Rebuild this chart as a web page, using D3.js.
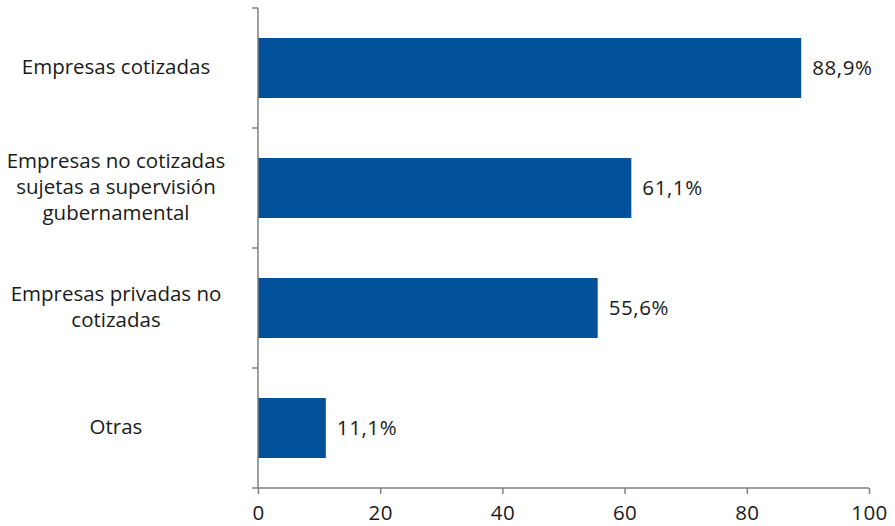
<!DOCTYPE html>
<html>
<head>
<meta charset="utf-8">
<script src="https://cdn.jsdelivr.net/npm/d3@7"></script>
<style>
  html, body { margin: 0; padding: 0; background: #fff; }
  svg { display: block; font-family: "Open Sans", "Noto Sans", sans-serif; }
</style>
</head>
<body>
<svg id="chart" width="895" height="526"></svg>
<script>
// Category labels, one line per array entry
const categories = [
  ["Empresas cotizadas"],
  ["Empresas no cotizadas", "sujetas a supervisión", "gubernamental"],
  ["Empresas privadas no", "cotizadas"],
  ["Otras"]
];
const values = [88.9, 61.1, 55.6, 11.1];
const valueLabels = ["88,9%", "61,1%", "55,6%", "11,1%"];
const xTicks = [0, 20, 40, 60, 80, 100];

const svg = d3.select("#chart");
const margin = { left: 258, right: 26, top: 8, bottom: 38 };
const width = 895, height = 526;

const x = d3.scaleLinear().domain([0, 100]).range([margin.left, width - margin.right]);
const y = d3.scaleBand().domain(d3.range(categories.length))
  .range([margin.top, height - margin.bottom]).paddingInner(0.5).paddingOuter(0.25);
const band = d3.scaleBand().domain(d3.range(categories.length))
  .range([margin.top, height - margin.bottom]);

const axisColor = "#7f7f7f";
const textColor = "#1a1a1a";

// Bars
svg.append("g").selectAll("rect").data(values).join("rect")
  .attr("x", x(0))
  .attr("y", (d, i) => y(i))
  .attr("width", d => x(d) - x(0))
  .attr("height", y.bandwidth())
  .attr("fill", "#02519b");

// Value labels
svg.append("g").selectAll("text").data(values).join("text")
  .attr("x", d => x(d) + 11)
  .attr("y", (d, i) => y(i) + y.bandwidth() / 2)
  .attr("dy", "0.35em")
  .attr("font-size", 20.5)
  .attr("letter-spacing", 0.6)
  .attr("fill", textColor)
  .text((d, i) => valueLabels[i]);

// Y axis: line with ticks at category boundaries
const yAxisG = svg.append("g");
yAxisG.append("line")
  .attr("x1", x(0)).attr("x2", x(0))
  .attr("y1", band.range()[0]).attr("y2", band.range()[1])
  .attr("stroke", axisColor).attr("stroke-width", 1.5);
const bounds = d3.range(categories.length).map(i => band(i));
yAxisG.selectAll("line.tick").data(bounds).join("line")
  .attr("class", "tick")
  .attr("x1", x(0) - 6).attr("x2", x(0))
  .attr("y1", d => d).attr("y2", d => d)
  .attr("stroke", axisColor).attr("stroke-width", 1.5);

// Category labels
const labelG = svg.append("g");
categories.forEach((lines, i) => {
  const cy = band(i) + band.bandwidth() / 2;
  const lh = 26;
  const t = labelG.append("text")
    .attr("text-anchor", "middle")
    .attr("font-size", 20.5)
    .attr("fill", textColor);
  lines.forEach((ln, j) => {
    t.append("tspan")
      .attr("x", 116)
      .attr("y", cy + (j - (lines.length - 1) / 2) * lh - 1)
      .attr("dy", "0.35em")
      .text(ln);
  });
});

// X axis
const xAxis = d3.axisBottom(x).tickValues(xTicks).tickSize(6).tickSizeOuter(0).tickPadding(11);
const xg = svg.append("g")
  .attr("transform", `translate(0,${height - margin.bottom})`)
  .call(xAxis);
xg.select(".domain").remove();
xg.append("line")
  .attr("x1", x(0) - 6).attr("x2", x(100))
  .attr("y1", 0).attr("y2", 0)
  .attr("stroke", axisColor).attr("stroke-width", 1.5);
xg.selectAll(".tick line").attr("stroke", axisColor).attr("stroke-width", 1.5);
xg.selectAll(".tick text")
  .attr("font-size", 20.5)
  .attr("letter-spacing", 0.4)
  .attr("font-family", "\"Open Sans\", \"Noto Sans\", sans-serif")
  .attr("fill", textColor);
</script>
</body>
</html>
